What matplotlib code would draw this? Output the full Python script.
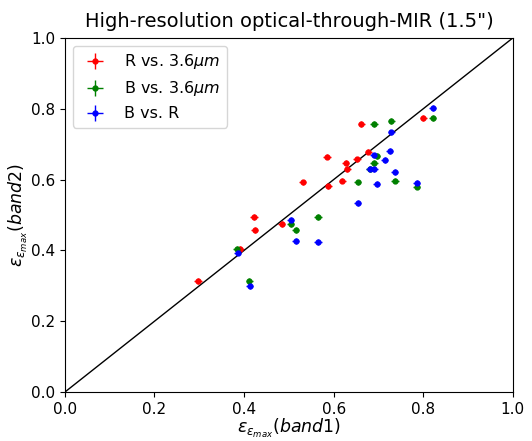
import matplotlib
matplotlib.use("Agg")
import matplotlib.pyplot as plt
import numpy as np

# R vs 3.6um
r_x = [0.297, 0.391, 0.422, 0.424, 0.484, 0.531, 0.585, 0.588, 0.619, 0.627, 0.630, 0.652, 0.662, 0.677, 0.800]
r_y = [0.314, 0.404, 0.495, 0.458, 0.475, 0.592, 0.665, 0.582, 0.597, 0.648, 0.629, 0.657, 0.756, 0.679, 0.774]
# B vs 3.6um
g_x = [0.384, 0.412, 0.504, 0.515, 0.565, 0.654, 0.681, 0.690, 0.696, 0.690, 0.729, 0.737, 0.785, 0.821]
g_y = [0.405, 0.314, 0.475, 0.458, 0.495, 0.592, 0.629, 0.648, 0.666, 0.756, 0.766, 0.597, 0.580, 0.774]
# B vs R
b_x = [0.386, 0.413, 0.504, 0.515, 0.565, 0.654, 0.681, 0.691, 0.690, 0.696, 0.714, 0.725, 0.729, 0.736, 0.785, 0.821]
b_y = [0.394, 0.299, 0.487, 0.427, 0.424, 0.533, 0.631, 0.630, 0.668, 0.588, 0.656, 0.680, 0.733, 0.621, 0.591, 0.803]

err = 0.008

fig = plt.figure(figsize=(5.32, 4.41), dpi=100)
ax = fig.add_axes([0.122, 0.111, 0.842, 0.803])

ax.errorbar(r_x, r_y, xerr=err, yerr=err, fmt='o', color='red', ms=3.5, lw=1, label='R vs. 3.6$\\mu m$')
ax.errorbar(g_x, g_y, xerr=err, yerr=err, fmt='o', color='green', ms=3.5, lw=1, label='B vs. 3.6$\\mu m$')
ax.errorbar(b_x, b_y, xerr=err, yerr=err, fmt='o', color='blue', ms=3.5, lw=1, label='B vs. R')
ax.plot([0, 1], [0, 1], color='black', lw=1)

ax.set_xlim(0, 1)
ax.set_ylim(0, 1)
ax.tick_params(labelsize=11)
ax.set_xlabel('$\\epsilon_{\\epsilon_{max}}(band1)$', fontsize=12.5, labelpad=0)
ax.set_ylabel('$\\epsilon_{\\epsilon_{max}}(band2)$', fontsize=12.5, labelpad=1)
ax.set_title('High-resolution optical-through-MIR (1.5")', fontsize=14, pad=8)
ax.legend(loc='upper left', fontsize=11.5)

fig.savefig('out.png', dpi=100)
